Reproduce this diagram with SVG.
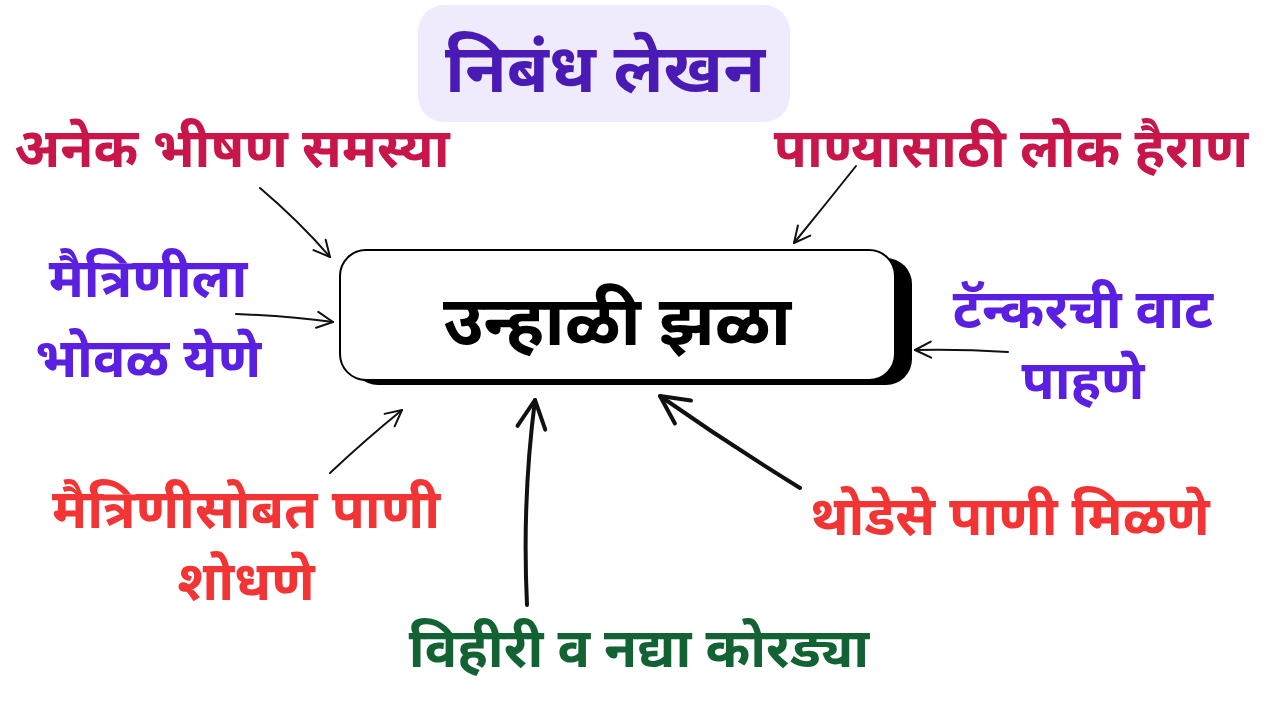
<svg xmlns="http://www.w3.org/2000/svg" width="1280" height="720" viewBox="0 0 1280 720">
<style>
  .t { font-family: "Noto Sans Devanagari", "Noto Sans", "Lohit Devanagari", sans-serif; font-weight: 700; text-anchor: middle; }
  .lbl { font-size: 54px; }
  .crimson { fill: #C8164A; }
  .violet { fill: #5A1FE0; }
  .red { fill: #F23434; }
  .green { fill: #136234; }
  .ink { fill: none; stroke: #111; stroke-linecap: round; stroke-linejoin: round; }
</style>
<defs>
  <marker id="ah" viewBox="0 0 20 20" refX="18" refY="10" markerWidth="20" markerHeight="20" markerUnits="userSpaceOnUse" orient="auto">
    <path d="M2 2 L18 10 L2 18" fill="none" stroke="#111" stroke-width="2" stroke-linecap="round" stroke-linejoin="round"/>
  </marker>
  <marker id="ahb" viewBox="0 0 34 34" refX="31" refY="17" markerWidth="34" markerHeight="34" markerUnits="userSpaceOnUse" orient="auto">
    <path d="M3 3 L31 17 L3 31" fill="none" stroke="#111" stroke-width="4" stroke-linecap="round" stroke-linejoin="round"/>
  </marker>
</defs>
<rect width="1280" height="720" fill="#ffffff"/>

<g id="title">
  <rect x="418" y="5" width="372" height="117" rx="26" fill="#EFEBFD"/>
  <text class="t" x="605" y="92" font-size="68" fill="#4A1AB4">निबंध लेखन</text>
</g>

<g id="center">
  <rect x="352" y="258" width="560" height="127" rx="26" fill="#000"/>
  <rect x="340" y="250" width="555" height="130" rx="26" fill="#fff" stroke="#000" stroke-width="2"/>
  <text class="t" x="617" y="345" font-size="69" fill="#000">उन्हाळी झळा</text>
</g>

<g id="n1"><text class="t lbl crimson" x="232" y="167">अनेक भीषण समस्या</text></g>
<g id="n2"><text class="t lbl crimson" x="1011" y="167">पाण्यासाठी लोक हैराण</text></g>
<g id="n3">
  <text class="t lbl violet" x="148" y="297">मैत्रिणीला</text>
  <text class="t lbl violet" x="148" y="377">भोवळ येणे</text>
</g>
<g id="n4">
  <text class="t lbl violet" x="1083" y="328">टॅन्करची वाट</text>
  <text class="t lbl violet" x="1083" y="399">पाहणे</text>
</g>
<g id="n5">
  <text class="t lbl red" x="246" y="528">मैत्रिणीसोबत पाणी</text>
  <text class="t lbl red" x="246" y="600">शोधणे</text>
</g>
<g id="n6"><text class="t lbl red" x="1010" y="535">थोडेसे पाणी मिळणे</text></g>
<g id="n7"><text class="t lbl green" x="639" y="667">विहीरी व नद्या कोरड्या</text></g>

<g id="connectors">
  <path class="ink" stroke-width="2" d="M260 188 Q300 222 330 257" marker-end="url(#ah)"/>
  <path class="ink" stroke-width="2" d="M236 314 Q290 316 333 322" marker-end="url(#ah)"/>
  <path class="ink" stroke-width="2" d="M856 166 Q825 205 794 243" marker-end="url(#ah)"/>
  <path class="ink" stroke-width="2" d="M1008 352 Q960 349 915 350" marker-end="url(#ah)"/>
  <path class="ink" stroke-width="2" d="M330 473 Q365 440 402 410" marker-end="url(#ah)"/>
  <path class="ink" stroke-width="4" d="M527 605 Q522 500 535 400" marker-end="url(#ahb)"/>
  <path class="ink" stroke-width="4" d="M800 488 Q730 445 660 396" marker-end="url(#ahb)"/>
</g>
</svg>
